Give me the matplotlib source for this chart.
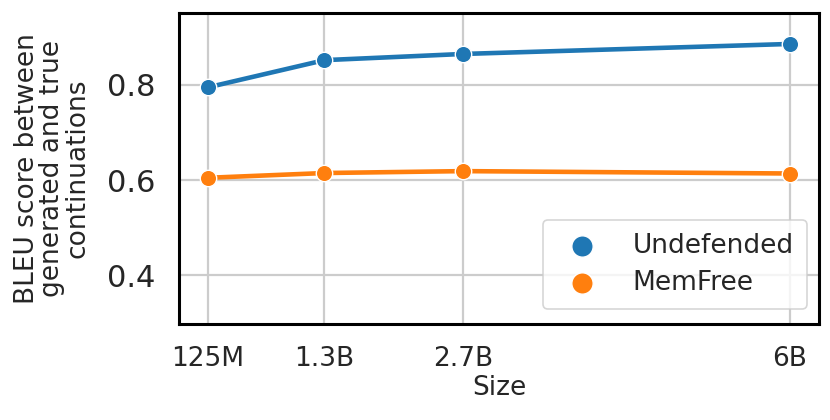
import matplotlib.pyplot as plt

# model sizes (in billions) and tick labels
sizes = [0.125, 1.3, 2.7, 6]
size_labels = ["125M", "1.3B", "2.7B", "6B"]

# BLEU scores
undefended = [0.795, 0.852, 0.865, 0.886]
memfree = [0.605, 0.615, 0.619, 0.614]

blue = "#1f77b4"
orange = "#ff7f0e"

fig = plt.figure(figsize=(8.3, 4.2), dpi=100)
ax = fig.add_axes([179 / 830, 96 / 420, 640 / 830, 311 / 420])

ax.plot(sizes, undefended, color=blue, lw=3.3, zorder=2)
ax.plot(sizes, memfree, color=orange, lw=3.3, zorder=2)
ax.scatter(sizes, undefended, s=140, color=blue, edgecolor="white", lw=1, zorder=3, label="Undefended")
ax.scatter(sizes, memfree, s=140, color=orange, edgecolor="white", lw=1, zorder=3, label="MemFree")

ax.set_ylim(0.298, 0.951)
ax.set_yticks([0.4, 0.6, 0.8])
ax.set_xticks(sizes)
ax.set_xticklabels(size_labels)
ax.grid(True, color="#cccccc", lw=1.6)
ax.set_axisbelow(True)
for sp in ax.spines.values():
    sp.set_color("black")
    sp.set_linewidth(2.2)

ax.tick_params(axis="y", labelsize=22, length=0, pad=17, labelcolor="#262626")
ax.tick_params(axis="x", labelsize=19, length=0, pad=16, labelcolor="#262626")

ax.set_xlabel("Size", fontsize=19, color="#262626", labelpad=2)
ax.set_ylabel("BLEU score between\ngenerated and true\ncontinuations", fontsize=19,
              color="#262626", labelpad=12, linespacing=0.95)

leg = ax.legend(loc="lower right", fontsize=19, frameon=True, borderpad=0.5,
                handletextpad=0.9, labelspacing=0.4, markerscale=1.3,
                borderaxespad=0, bbox_to_anchor=(0.981, 0.048))
leg.get_frame().set_edgecolor("#cccccc")
leg.get_frame().set_linewidth(1.2)
for t in leg.get_texts():
    t.set_color("#262626")

fig.savefig("out.png", dpi=100)
